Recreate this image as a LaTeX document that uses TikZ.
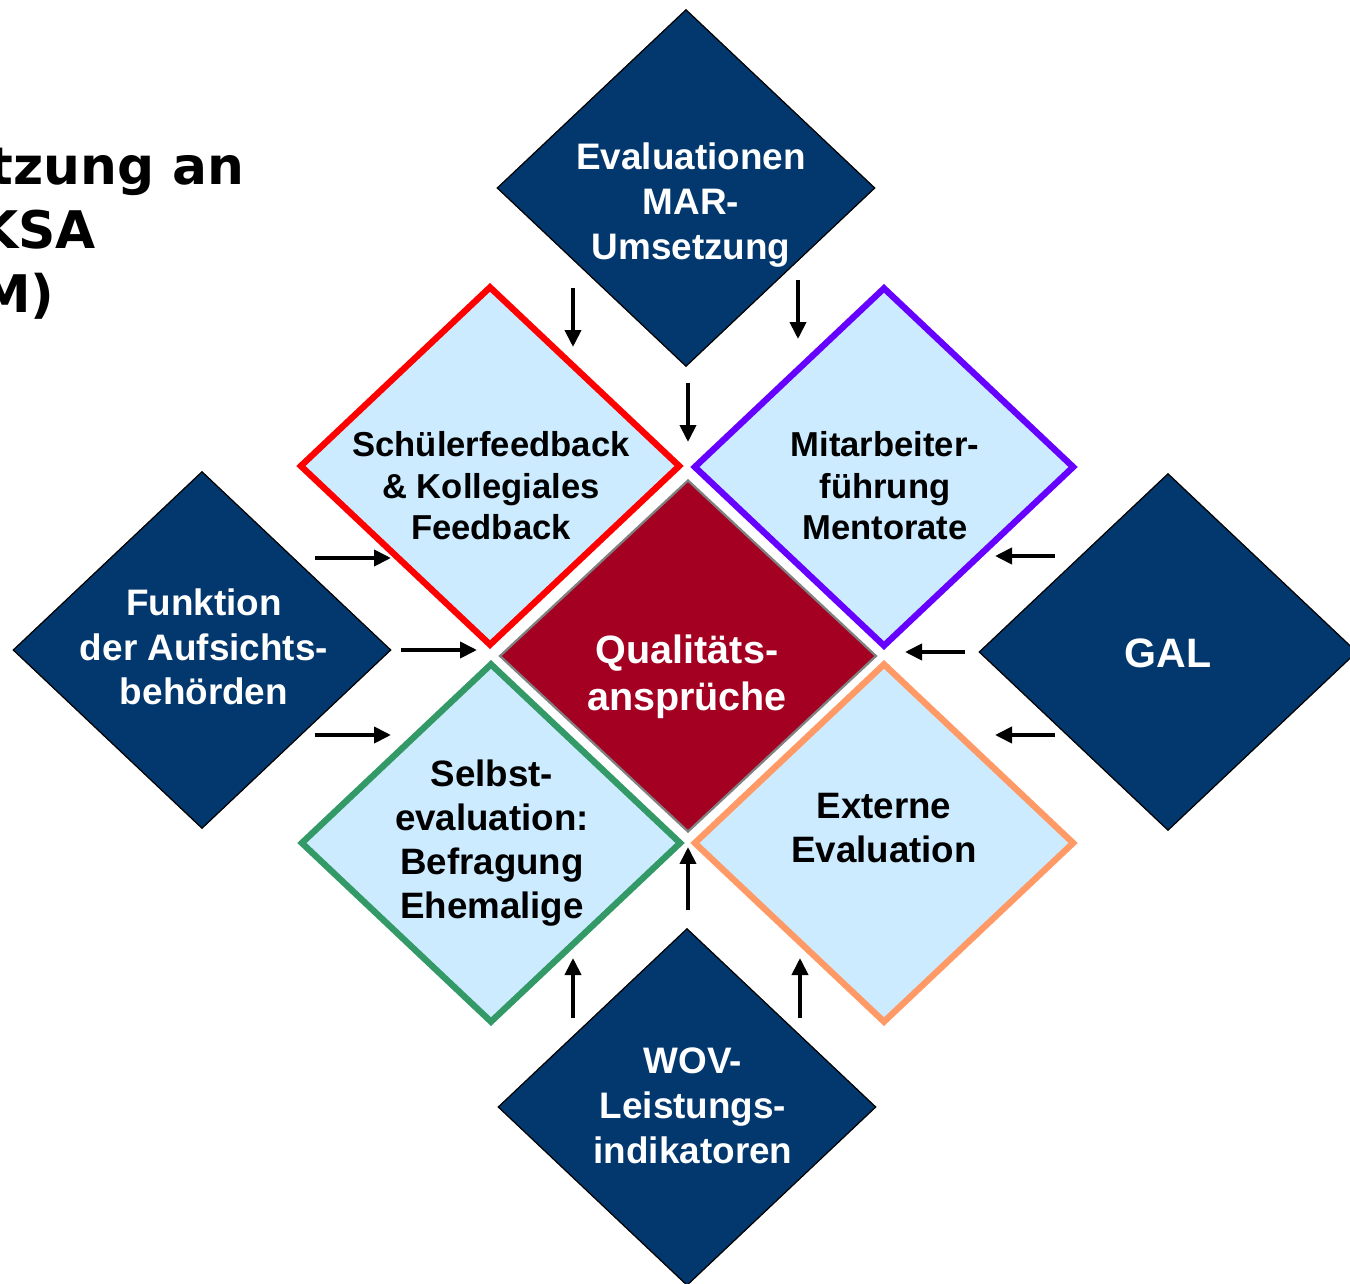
\documentclass[tikz,border=0pt]{standalone}
\usepackage{fontspec}
\setmainfont{Liberation Sans}
\newfontfamily\titlefont{DejaVu Sans}
\usetikzlibrary{shapes.geometric,arrows.meta}
\definecolor{navy}{HTML}{03386E}
\definecolor{paleblue}{HTML}{CCEBFF}
\definecolor{wine}{HTML}{A30022}
\definecolor{redline}{HTML}{FF0000}
\definecolor{purpleline}{HTML}{6600FF}
\definecolor{greenline}{HTML}{339966}
\definecolor{orangeline}{HTML}{FF9966}
\tikzset{
  outerbox/.style={diamond, draw=black, line width=0.7pt, fill=navy, inner sep=0pt,
    minimum width=7.56cm, minimum height=7.14cm},
  innerbox/.style={diamond, line width=3.6pt, fill=paleblue, inner sep=0pt,
    minimum width=7.62cm, minimum height=7.2cm},
  whitetext/.style={text=white, align=center, font=\bfseries\fontsize{21}{25.5}\selectfont},
  uppertext/.style={text=black, align=center, font=\bfseries\fontsize{19.7}{23.6}\selectfont},
  lowertext/.style={text=black, align=center, font=\bfseries\fontsize{20.9}{25.2}\selectfont},
  titletext/.style={anchor=base east, inner sep=0pt, font=\titlefont\bfseries\fontsize{29.5}{36}\selectfont},
  arr/.style={-{Triangle[length=0.34cm,width=0.32cm]}, line width=2.2pt},
}
\begin{document}
\begin{tikzpicture}[x=0.02cm, y=-0.02cm]
        \useasboundingbox (0,0) rectangle (1350,1284);
        % title, cut at the left edge
        \node[titletext] (H0) at (245,185) {tzung an};
        \node[titletext] (H1) at (96,249) {KSA};
        \node[titletext] (H2) at (55,313) {M)};
        % outer diamonds
        \node[outerbox] (D0_1) at (686,188) {};
        \node[outerbox] (D1_0) at (202,650) {};
        \node[outerbox] (D1_2) at (1168,652) {};
        \node[outerbox] (D2_1) at (687,1107) {};
        % inner diamonds
        \node[innerbox, draw=redline] (E0_0) at (490,466) {};
        \node[innerbox, draw=purpleline] (E0_1) at (884,467) {};
        \node[innerbox, draw=greenline] (E1_0) at (491,843) {};
        \node[innerbox, draw=orangeline] (E1_1) at (884,843) {};
        % centre
        \node[diamond, draw=gray, line width=1.3pt, fill=wine, inner sep=0pt,
          minimum width=7.54cm, minimum height=7.04cm] (C) at (688,656) {};
        % texts
        \node[whitetext] (T0_1) at (691,205) {Evaluationen\\MAR-\\Umsetzung};
        \node[whitetext] (T1_0) at (204,647) {Funktion\\der Aufsichts-\\behörden};
        \node[whitetext, font=\bfseries\fontsize{23.4}{28}\selectfont] (T1_2) at (1168,653) {GAL};
        \node[whitetext] (T2_1) at (693,1106) {WOV-\\Leistungs-\\indikatoren};
        \node[uppertext] (U0_0) at (491,486) {Schülerfeedback\\\& Kollegiales\\Feedback};
        \node[uppertext] (U0_1) at (885,486) {Mitarbeiter-\\führung\\Mentorate};
        \node[lowertext] (U1_0) at (492,843) {Selbst-\\evaluation:\\Befragung\\Ehemalige};
        \node[lowertext] (U1_1) at (884,828) {Externe\\Evaluation};
        \node[whitetext, font=\bfseries\fontsize{22.5}{27}\selectfont] (TC) at (687,677) {Qualitäts-\\ansprüche};
        % arrow ends
        \coordinate (N0a) at (573,288); \coordinate (N0b) at (573,347);
        \coordinate (N1a) at (798,280); \coordinate (N1b) at (798,339);
        \coordinate (N2a) at (688,383); \coordinate (N2b) at (688,442);
        \coordinate (W0a) at (315,558); \coordinate (W0b) at (391,558);
        \coordinate (W1a) at (401,650); \coordinate (W1b) at (477,650);
        \coordinate (W2a) at (315,735); \coordinate (W2b) at (391,735);
        \coordinate (O0a) at (1055,556); \coordinate (O0b) at (995,556);
        \coordinate (O1a) at (965,652); \coordinate (O1b) at (905,652);
        \coordinate (O2a) at (1055,735); \coordinate (O2b) at (995,735);
        \coordinate (S0a) at (573,1018); \coordinate (S0b) at (573,958);
        \coordinate (S1a) at (800,1018); \coordinate (S1b) at (800,958);
        \coordinate (S2a) at (688,910); \coordinate (S2b) at (688,847);
        \path (N0a) edge [arr] (N0b);
        \path (N1a) edge [arr] (N1b);
        \path (N2a) edge [arr] (N2b);
        \path (W0a) edge [arr] (W0b);
        \path (W1a) edge [arr] (W1b);
        \path (W2a) edge [arr] (W2b);
        \path (O0a) edge [arr] (O0b);
        \path (O1a) edge [arr] (O1b);
        \path (O2a) edge [arr] (O2b);
        \path (S0a) edge [arr] (S0b);
        \path (S1a) edge [arr] (S1b);
        \path (S2a) edge [arr] (S2b);
      \end{tikzpicture}
\end{document}
